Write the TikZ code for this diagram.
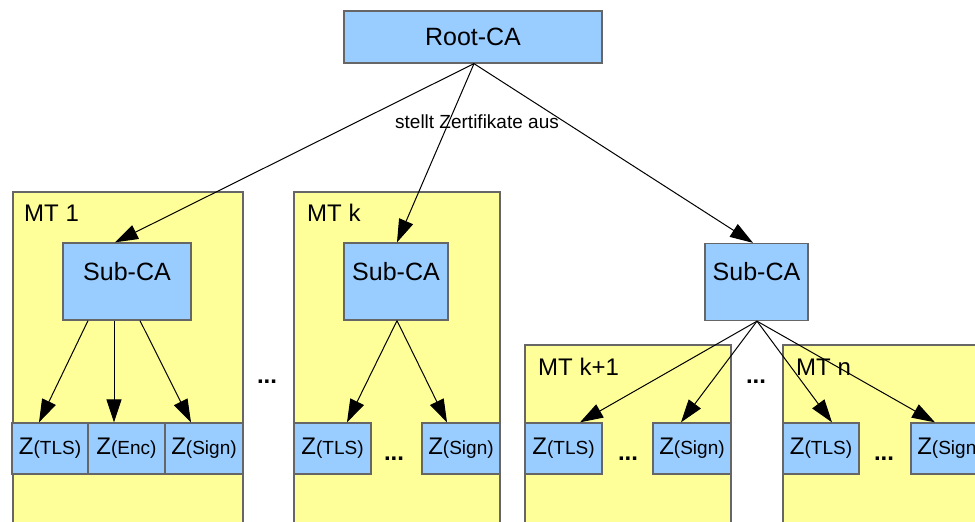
\documentclass[tikz,border=0pt]{standalone}
\usepackage{fontspec}
\setmainfont{Liberation Sans}
\usetikzlibrary{arrows.meta,calc}
\definecolor{boxblue}{HTML}{99CCFF}
\definecolor{boxyellow}{HTML}{FFFF99}
\definecolor{edgegray}{HTML}{666666}
\newcommand{\zlab}[1]{{\fontsize{24}{28}\selectfont Z}{\fontsize{19}{22}\selectfont (#1)}}
\tikzset{
  mtbox/.style={draw=edgegray, fill=boxyellow, line width=1.3pt, inner sep=0pt},
  cabox/.style={draw=edgegray, fill=boxblue, line width=1.3pt, inner sep=0pt, font=\fontsize{25}{30}\selectfont},
  subca/.style={cabox, minimum height=77pt, text height=37pt, text depth=40pt},
  zbox/.style={draw=edgegray, fill=boxblue, line width=1.3pt, inner sep=0pt, minimum height=51pt},
  mtlabel/.style={anchor=base west, inner sep=0pt, font=\fontsize{24}{28}\selectfont},
  dotslabel/.style={anchor=base, inner sep=0pt, font=\fontsize{24}{28}\selectfont\bfseries},
  arr/.style={draw=black, line width=1pt, -{Triangle[length=23pt,width=15pt]}},
}
\begin{document}
\begin{tikzpicture}[x=1pt,y=-1pt]
\clip (0,0) rectangle (975,522);
% containers
\node[mtbox, minimum width=230pt, minimum height=348pt] (mt1) at (128,366) {};
\node[mtbox, minimum width=206pt, minimum height=348pt] (mtk) at (397,366) {};
\node[mtbox, minimum width=206pt, minimum height=195pt] (mtk1) at (628,442.5) {};
\node[mtbox, minimum width=217pt, minimum height=195pt] (mtn) at (891.5,442.5) {};
\node[mtlabel] (l1) at (24,221) {MT 1};
\node[mtlabel] (lk) at (307,221) {MT k};
\node[mtlabel] (lk1) at (538,375) {MT k+1};
\node[mtlabel] (ln) at (796,375) {MT n};
% CAs
\node[cabox, minimum width=258pt, minimum height=52pt] (root) at (473,37) {Root-CA};
\node[subca, minimum width=128pt] (s1) at (127,281.5) {Sub-CA};
\node[subca, minimum width=104pt] (sk) at (396,281.5) {Sub-CA};
\node[subca, minimum width=103pt] (sr) at (756.5,282) {Sub-CA};
% Z boxes
\node[zbox, minimum width=76pt] (z11) at (50,448.5) {\zlab{TLS}};
\node[zbox, minimum width=77pt] (z12) at (126.5,448.5) {\zlab{Enc}};
\node[zbox, minimum width=78pt] (z13) at (204,448.5) {\zlab{Sign}};
\node[zbox, minimum width=77pt] (zk1) at (332.5,448.5) {\zlab{TLS}};
\node[zbox, minimum width=78pt] (zk2) at (461,448.5) {\zlab{Sign}};
\node[zbox, minimum width=77pt] (zp1) at (563.5,448.5) {\zlab{TLS}};
\node[zbox, minimum width=78pt] (zp2) at (692,448.5) {\zlab{Sign}};
\node[zbox, minimum width=76pt] (zn1) at (821,448.5) {\zlab{TLS}};
\node[zbox, minimum width=78pt] (zn2) at (950,448.5) {\zlab{Sign}};
% dots
\node[dotslabel] (d1) at (267,383) {...};
\node[dotslabel] (d2) at (756,383) {...};
\node[dotslabel] (d3) at (394,460) {...};
\node[dotslabel] (d4) at (628,460) {...};
\node[dotslabel] (d5) at (884,460) {...};
% root arrows
\draw[arr] (root.south) ++(1,0) -- ($(s1.north)+(-12,0)$);
\draw[arr] (root.south) ++(1,0) -- ($(sk.north)+(1,0)$);
\draw[arr] (root.south) ++(1,0) -- ($(sr.north)+(-3.5,0)$);
\node[anchor=base, inner sep=0pt, font=\fontsize{19}{22}\selectfont] (lab) at (477,128) {stellt Zertifikate aus};
% MT1 arrows
\draw[arr] ($(s1.south)+(-39,0)$) -- ($(z11.north)+(-11,0)$);
\draw[arr] ($(s1.south)+(-13,0)$) -- ($(z12.north)+(-12.5,0)$);
\draw[arr] ($(s1.south)+(13,0)$) -- ($(z13.north)+(-13,0)$);
% MTk arrows
\draw[arr] ($(sk.south)+(1,0)$) -- ($(zk1.north)+(14.5,0)$);
\draw[arr] ($(sk.south)+(1,0)$) -- ($(zk2.north)+(-14,0)$);
% right arrows
\draw[arr] ($(sr.south)+(0.5,0)$) -- ($(zp1.north)+(16.5,0)$);
\draw[arr] ($(sr.south)+(0.5,0)$) -- ($(zp2.north)+(-11,0)$);
\draw[arr] ($(sr.south)+(0.5,0)$) -- ($(zn1.north)+(11,0)$);
\draw[arr] ($(sr.south)+(0.5,0)$) -- ($(zn2.north)+(-15,0)$);
\end{tikzpicture}
\end{document}
